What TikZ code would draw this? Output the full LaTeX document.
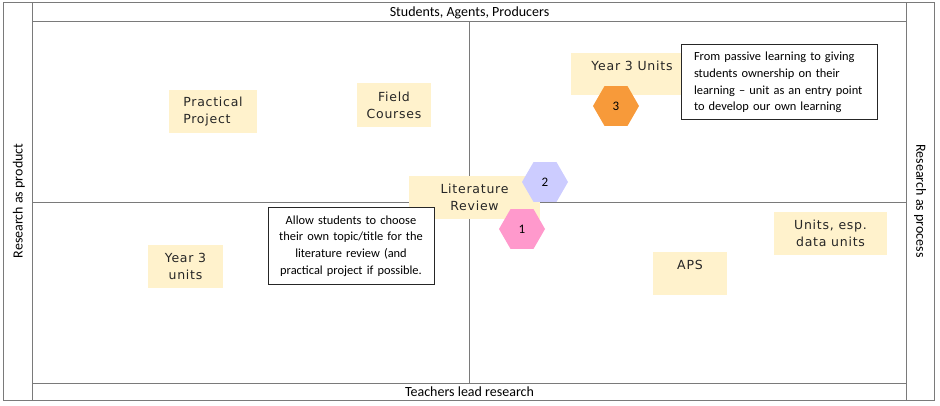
\documentclass[tikz,border=0pt]{standalone}
\usepackage{fontspec}
\setmainfont{Carlito}
\newfontfamily\handfont[LetterSpace=6]{DejaVu Sans}
\usetikzlibrary{shapes.geometric}
\definecolor{notefill}{HTML}{FFF2CC}
\definecolor{framegray}{HTML}{7A7A7A}
\definecolor{hexorange}{HTML}{F79A3A}
\definecolor{hexlav}{HTML}{CCCCFF}
\definecolor{hexpink}{HTML}{FF99CC}
\begin{document}
\begin{tikzpicture}[x=1pt,y=-1pt,
  frameline/.style={draw=framegray, line width=1pt},
  axislabel/.style={font=\fontsize{14}{16}\selectfont, inner sep=0pt},
  note/.style={fill=notefill, draw=none, inner sep=0pt},
  handtext/.style={font=\handfont\fontsize{12.5}{17}\selectfont, inner sep=0pt, text=black!85},
  hexnode/.style={regular polygon, regular polygon sides=6, minimum size=46pt, inner sep=0pt, draw=none, font=\fontsize{13}{15}\selectfont},
  commentbox/.style={draw=black!85, line width=1pt, fill=white, inner sep=0pt, font=\fontsize{12.4}{16.7}\selectfont}
]
\useasboundingbox (0,0) rectangle (940,406);
% frame
\coordinate (tl) at (3,3);
\coordinate (br) at (934,400);
\draw[frameline] (tl) rectangle (br);
\coordinate (ltop) at (32,3);
\coordinate (lbot) at (32,400);
\coordinate (rtop) at (906,3);
\coordinate (rbot) at (906,400);
\draw[frameline] (ltop) -- (lbot);
\draw[frameline] (rtop) -- (rbot);
\coordinate (tbl) at (32,22);
\coordinate (tbr) at (906,22);
\coordinate (bbl) at (32,383);
\coordinate (bbr) at (906,383);
\draw[frameline] (tbl) -- (tbr);
\draw[frameline] (bbl) -- (bbr);
% quadrant axes
\coordinate (vt) at (469,22);
\coordinate (vb) at (469,383);
\coordinate (hl) at (32,203);
\coordinate (hr) at (906,203);
\draw[frameline] (vt) -- (vb);
\draw[frameline] (hl) -- (hr);
% axis labels
\node[axislabel] (top) at (469.5,13) {Students, Agents, Producers};
\node[axislabel] (bottom) at (469.5,392) {Teachers lead research};
\node[axislabel, rotate=90] (left) at (19,201) {Research as product};
\node[axislabel, rotate=-90] (right) at (920,201) {Research as process};
% sticky notes
\node[note, minimum width=88pt, minimum height=43pt, handtext, align=left] (pp) at (213,111.5) {Practical\\Project};
\node[note, minimum width=74pt, minimum height=44pt, handtext, align=center] (fc) at (394,105) {Field\\Courses};
\node[note, minimum width=120pt, minimum height=42pt] (y3u) at (631,74) {};
\node[handtext] (y3ut) at (632,66) {Year 3 Units};
\node[note, minimum width=131pt, minimum height=43pt, handtext, align=center] (lr) at (474.5,197.5) {Literature\\Review};
\node[note, minimum width=75pt, minimum height=43pt, handtext, align=center] (y3l) at (185.5,266.5) {Year 3\\units};
\node[note, minimum width=113pt, minimum height=43pt, handtext, align=center] (ud) at (830.5,233.5) {Units, esp.\\data units};
\node[note, minimum width=74pt, minimum height=43pt] (aps) at (690,273.5) {};
\node[handtext] (apst) at (690,265) {APS};
% hexagons
\node[hexnode, fill=hexorange] (h3) at (616,106) {3};
\node[hexnode, fill=hexlav] (h2) at (545,182) {2};
\node[hexnode, fill=hexpink] (h1) at (522,229) {1};
% comment boxes
\node[commentbox, minimum width=196pt, minimum height=75pt, text width=170pt, align=left] (c1) at (779,82.5) {From passive learning to giving\\students ownership on their\\learning -- unit as an entry point\\to develop our own learning};
\node[commentbox, minimum width=166pt, minimum height=76pt, text width=164pt, align=center] (c2) at (351,246) {Allow students to choose\\their own topic/title for the\\literature review (and\\practical project if possible.};
\end{tikzpicture}
\end{document}
